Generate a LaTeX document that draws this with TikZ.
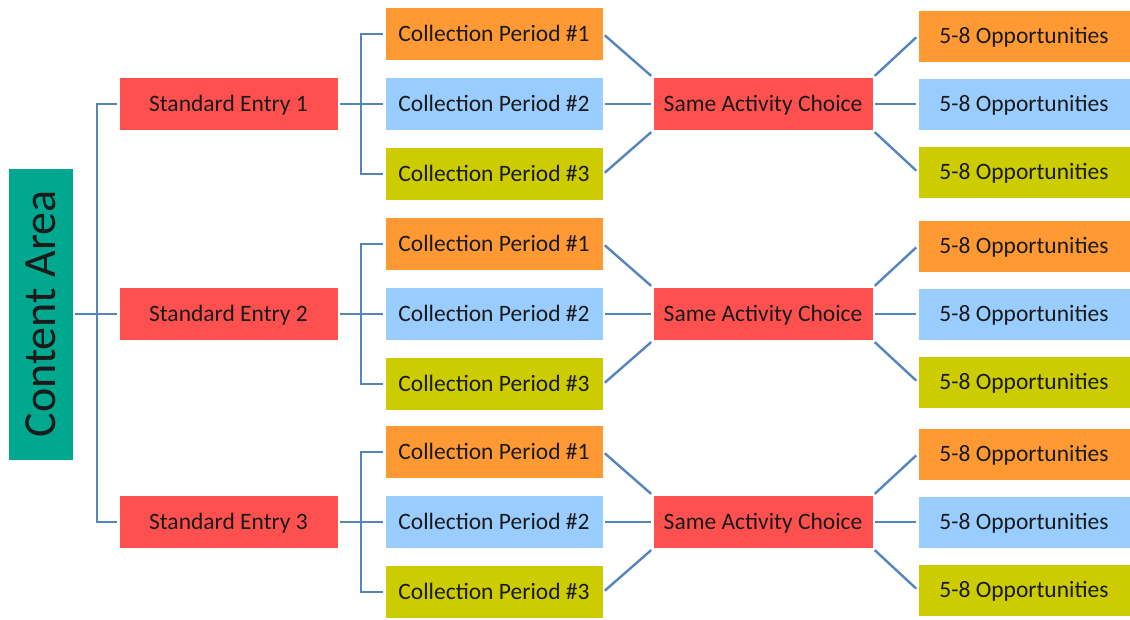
\documentclass[tikz,border=0pt]{standalone}
\usepackage{fontspec}
\setmainfont{Carlito}
\definecolor{cred}{HTML}{FF5050}
\definecolor{corange}{HTML}{FF9933}
\definecolor{cblue}{HTML}{99CCFF}
\definecolor{colive}{HTML}{CCCC00}
\definecolor{cteal}{HTML}{00A890}
\definecolor{lineblue}{RGB}{84,134,190}
\definecolor{txt}{HTML}{1A1A1A}
\begin{document}
\begin{tikzpicture}[x=1pt,y=-1pt,
  box/.style={rectangle, inner sep=0pt, minimum height=53pt, draw=white, line width=0.6pt,
    font=\fontsize{23.5}{26}\selectfont, text=txt, text height=17pt, text depth=2pt},
  sebox/.style={box, fill=cred, minimum width=219pt},
  cpbox/.style={box, minimum width=218pt},
  sacbox/.style={box, fill=cred, minimum width=220pt},
  oppbox/.style={box, minimum width=212pt, minimum height=52pt},
  conn/.style={draw=lineblue, line width=2.4pt},
  gap/.style={shorten <=2pt, shorten >=2pt}]
\useasboundingbox (0,0) rectangle (1130,620);

% root
\node[rectangle, fill=cteal, draw=white, line width=0.6pt, inner sep=0pt, minimum width=292pt, minimum height=65pt,
  rotate=90, font=\fontsize{46}{50}\selectfont, text=txt, text height=33pt, text depth=4pt] (ca) at (40.5,314) {Content Area};

\foreach \g/\yc in {1/104,2/314,3/522} {
  \node[sebox] (se\g) at (228.5,\yc) {Standard Entry \g};
  \node[cpbox, fill=corange] (cp\g-1) at (494,\yc-70) {Collection Period \#1};
  \node[cpbox, fill=cblue]   (cp\g-2) at (494,\yc) {Collection Period \#2};
  \node[cpbox, fill=colive]  (cp\g-3) at (494,\yc+70) {Collection Period \#3};
  \node[sacbox] (sac\g) at (763,\yc) {Same Activity Choice};
  \node[oppbox, fill=corange] (op\g-1) at (1024,\yc-68) {5-8 Opportunities};
  \node[oppbox, fill=cblue]   (op\g-2) at (1024,\yc) {5-8 Opportunities};
  \node[oppbox, fill=colive]  (op\g-3) at (1024,\yc+68) {5-8 Opportunities};
  % SE -> CP
  \coordinate (b\g) at (361,\yc);
  \draw[conn, gap] (se\g.east) -- (cp\g-2.west);
  \draw[conn] ([xshift=-2pt]cp\g-1.west) -| (b\g) |- ([xshift=-2pt]cp\g-3.west);
  % CP -> SAC
  \draw[conn, gap] (cp\g-1.east) -- (sac\g.north west);
  \draw[conn, gap] (cp\g-2.east) -- (sac\g.west);
  \draw[conn, gap] (cp\g-3.east) -- (sac\g.south west);
  % SAC -> OPP
  \draw[conn, gap] (sac\g.north east) -- (op\g-1.west);
  \draw[conn, gap] (sac\g.east) -- (op\g-2.west);
  \draw[conn, gap] (sac\g.south east) -- (op\g-3.west);
}

% root connectors
\coordinate (j) at (97,314);
\draw[conn, gap] (ca.south) -- (se2.west);
\draw[conn] ([xshift=-2pt]se1.west) -| (j) |- ([xshift=-2pt]se3.west);
\end{tikzpicture}
\end{document}
